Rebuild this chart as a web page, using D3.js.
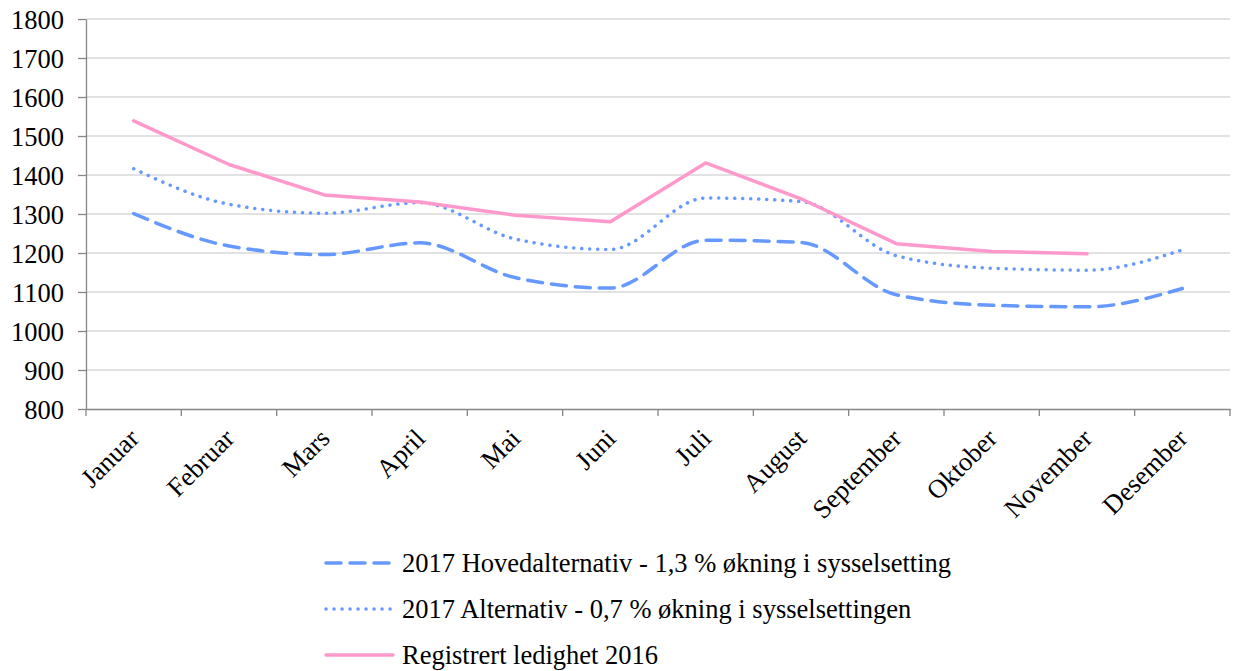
<!DOCTYPE html>
<html>
<head>
<meta charset="utf-8">
<script src="https://cdn.jsdelivr.net/npm/d3@7"></script>
<style>
  body { margin: 0; background: #fff; }
  text { font-family: "Liberation Serif", "Times New Roman", serif; fill: #000; }
</style>
</head>
<body>
<div id="chart"></div>
<script>
const months = ["Januar", "Februar", "Mars", "April", "Mai", "Juni", "Juli", "August", "September", "Oktober", "November", "Desember"];
const hoved2017 = [1301, 1218, 1196, 1226, 1137, 1110, 1233, 1227, 1093, 1066, 1062, 1109];
const alt2017 = [1416, 1325, 1302, 1329, 1236, 1209, 1341, 1332, 1193, 1161, 1156, 1208];
const reg2016 = [1539, 1427, 1349, 1331, 1297, 1280, 1431, 1339, 1224, 1204, 1198, null];
const yTicks = [800, 900, 1000, 1100, 1200, 1300, 1400, 1500, 1600, 1700, 1800];

const width = 1233, height = 671;
const margin = { left: 86, right: 3, top: 19, bottom: 262 };
const fontSize = "26.5px";
const serif = "'Liberation Serif', 'Times New Roman', serif";

const svg = d3.select("#chart").append("svg")
    .attr("width", width).attr("height", height);

const x = d3.scaleBand().domain(months).range([margin.left, width - margin.right]);
const y = d3.scaleLinear().domain([800, 1800]).range([height - margin.bottom, margin.top]);

// gridlines
svg.append("g").selectAll("line").data(yTicks.slice(1)).join("line")
    .attr("x1", margin.left).attr("x2", width - margin.right)
    .attr("y1", d => y(d)).attr("y2", d => y(d))
    .attr("stroke", "#d9d9d9").attr("stroke-width", 1.3);

// y axis
const yAxis = svg.append("g").attr("transform", `translate(${margin.left},0)`)
    .call(d3.axisLeft(y).tickValues(yTicks).tickFormat(d3.format("d")).tickSize(8).tickSizeOuter(0).tickPadding(14));
yAxis.attr("font-family", serif).attr("font-size", null);
yAxis.selectAll("path, line").attr("stroke", "#868686").attr("stroke-width", 1.3);
yAxis.selectAll("text").style("font-size", fontSize).style("font-family", serif).attr("dy", "0.35em");

// x axis
const xAxis = svg.append("g").attr("transform", `translate(0,${y(800)})`)
    .call(d3.axisBottom(x).tickSize(0).tickSizeOuter(0));
xAxis.attr("font-family", serif).attr("font-size", null);
xAxis.select("path").attr("stroke", "#868686").attr("stroke-width", 1.3);
xAxis.selectAll("text")
    .style("font-size", fontSize).style("font-family", serif)
    .attr("text-anchor", "end")
    .attr("dy", null).attr("y", 0)
    .attr("transform", "translate(7,31) rotate(-45)");
// band boundary ticks
svg.append("g").selectAll("line").data(d3.range(months.length + 1)).join("line")
    .attr("x1", i => margin.left + i * x.bandwidth())
    .attr("x2", i => margin.left + i * x.bandwidth())
    .attr("y1", y(800)).attr("y2", y(800) + 7)
    .attr("stroke", "#868686").attr("stroke-width", 1.3);

const cx = m => x(m) + x.bandwidth() / 2;

const series = [
  { name: "2017 Hovedalternativ - 1,3 % økning i sysselsetting", values: hoved2017, color: "#6699ff", dash: "15,9", curve: d3.curveMonotoneX },
  { name: "2017 Alternativ - 0,7 % økning i sysselsettingen", values: alt2017, color: "#6699ff", dash: "0.1,7.9", curve: d3.curveMonotoneX },
  { name: "Registrert ledighet 2016", values: reg2016, color: "#ff99cc", dash: null, curve: d3.curveLinear }
];

series.forEach(s => {
  const line = d3.line()
      .defined(d => d != null)
      .x((d, i) => cx(months[i]))
      .y(d => y(d))
      .curve(s.curve);
  svg.append("path")
      .datum(s.values)
      .attr("d", line)
      .attr("fill", "none")
      .attr("stroke", s.color)
      .attr("stroke-width", 3.5)
      .attr("stroke-linecap", "round")
      .attr("stroke-linejoin", "round")
      .attr("stroke-dasharray", s.dash);
});

// legend
const legend = svg.append("g");
series.forEach((s, i) => {
  const ly = 563 + i * 46;
  legend.append("line")
      .attr("x1", 326).attr("x2", 393).attr("y1", ly).attr("y2", ly)
      .attr("stroke", s.color).attr("stroke-width", 3.5)
      .attr("stroke-linecap", "round")
      .attr("stroke-dasharray", s.dash);
  legend.append("text")
      .attr("x", 402).attr("y", ly).attr("dy", "0.35em")
      .style("font-size", fontSize).style("font-family", serif)
      .text(s.name);
});
</script>
</body>
</html>
